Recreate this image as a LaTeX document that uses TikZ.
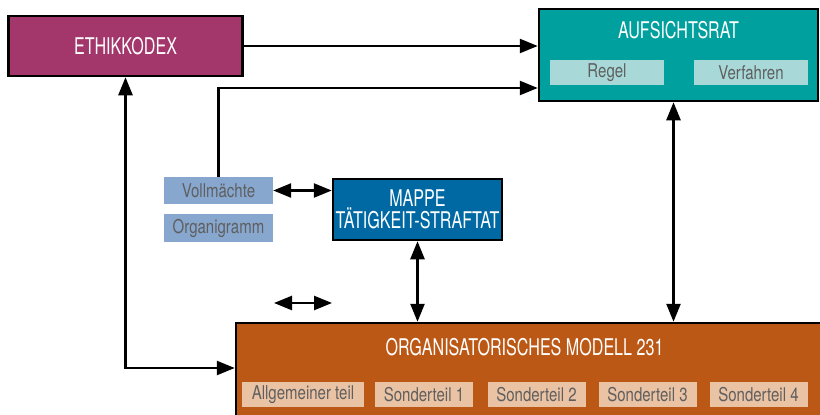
\documentclass[tikz,border=0pt]{standalone}
\usepackage{fontspec}
\setmainfont{TeX Gyre Heros}[FakeStretch=0.79]
\newfontfamily\titlefont{TeX Gyre Heros}[FakeStretch=0.7]
\usetikzlibrary{arrows.meta}
\definecolor{ethikred}{RGB}{163,54,107}
\definecolor{aufsteal}{RGB}{0,160,158}
\definecolor{aufslight}{RGB}{168,216,216}
\definecolor{mappeblue}{RGB}{0,105,163}
\definecolor{mappelight}{RGB}{135,167,207}
\definecolor{orgorange}{RGB}{188,88,22}
\definecolor{orglight}{RGB}{234,194,164}
\definecolor{subgray}{RGB}{95,95,95}

\begin{document}
\begin{tikzpicture}[x=1pt, y=-1pt,
  box/.style={draw, line width=2.5pt, text=white, inner sep=0pt, align=center,
    font=\titlefont\fontsize{23}{22.5}\selectfont},
  part/.style={text=subgray, inner sep=0pt, minimum height=25pt,
    font=\fontsize{19}{19}\selectfont},
  link/.style={line width=2.5pt, -{Triangle[length=18pt,width=14pt]}},
  both/.style={line width=2.5pt, {Triangle[length=18pt,width=14pt]}-{Triangle[length=18pt,width=14pt]}}]
  \useasboundingbox (0,0) rectangle (820,415);

  % main boxes
  \node [box, fill=ethikred, minimum width=234pt, minimum height=60pt] (ethik) at (125.5,46) {ETHIKKODEX};
  \node [box, fill=aufsteal, minimum width=279pt, minimum height=92pt] (aufs) at (678.5,55) {};
  \node [box, fill=mappeblue, minimum width=169pt, minimum height=61pt] (mappe) at (417.5,209.5) {MAPPE\\T\"ATIGKEIT-STRAFTAT};
  \node [box, fill=orgorange, minimum width=593pt, minimum height=101pt] (org) at (532.5,373.5) {};

  % titles
  \node [box, draw=none] (aufstitle) at (678.5,30) {AUFSICHTSRAT};
  \node [box, draw=none] (orgtitle) at (524.5,347) {ORGANISATORISCHES MODELL 231};

  % parts
  \node [part, fill=aufslight, minimum width=114pt] (regel) at (607,72.5) {Regel};
  \node [part, fill=aufslight, minimum width=114pt] (verf) at (751,72.5) {Verfahren};
  \node [part, fill=mappelight, minimum width=109pt, minimum height=27pt] (voll) at (218.5,190.5) {Vollm\"achte};
  \node [part, fill=mappelight, minimum width=109pt, minimum height=28pt] (organi) at (218.5,228) {Organigramm};
  \node [part, fill=orglight, minimum width=122pt] (allg) at (303,394.5) {Allgemeiner teil};
  \foreach \i/\x in {1/424, 2/536.5, 3/647.5, 4/758.5} {
    \node [part, fill=orglight, minimum width=98pt] (sonder\i) at (\x,394.5) {Sonderteil \i};
  }

  % connectors
  \draw [link] (ethik.east) -- (aufs.west |- ethik.east);
  \draw [link] (voll.north) |- ([yshift=-33pt]aufs.west);
  \draw [both] (voll.east) -- (voll.east -| mappe.west);
  \coordinate (loose1) at (274,303);
  \coordinate (loose2) at (332,303);
  \draw [both] (loose1) -- (loose2);
  \draw [both] (mappe.south) -- (mappe.south |- org.north);
  \draw [both] ([xshift=-5pt]aufs.south) -- ([xshift=-5pt]aufs.south |- org.north);
  \draw [both] (ethik.south) |- ([yshift=5.5pt]org.west);

\end{tikzpicture}
\end{document}
